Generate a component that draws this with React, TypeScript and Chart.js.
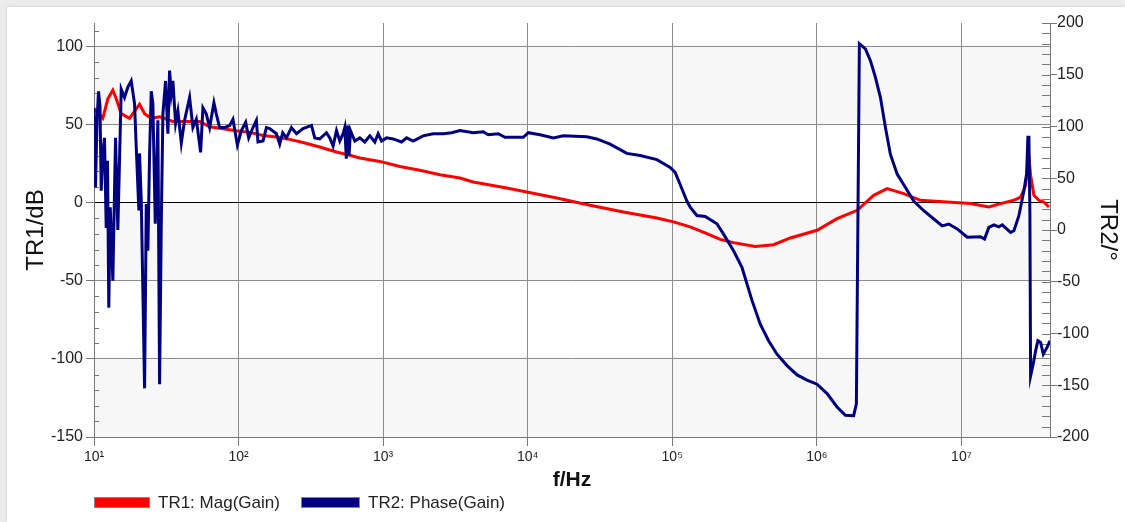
import React, { useEffect, useRef } from 'react';
import { Chart, registerables } from 'chart.js';

Chart.register(...registerables);

// ---- Data ----
const magFreq = [
  10.0, 11.5, 12.46, 13.5, 14.25, 15.43, 17.61, 20.66, 22.38, 24.89,
  28.42, 35.13, 43.5, 53.8, 63.1, 78.0, 96.6, 119.4, 147.6, 182.7,
  225.9, 279.3, 364.5, 475.7, 588.2, 689.7, 949, 1305, 1796, 2470,
  3398, 4201, 7155, 9842, 15880, 27010, 45920, 78250, 102000, 133000,
  173700, 214700, 265400, 375100, 502100, 655300, 1003000, 1380000, 1899000, 2474000,
  3064000, 3991000, 5211000, 7975000, 11560000, 15480000, 18660000, 23070000, 25670000, 27790000,
  29300000, 30100000, 31730000, 34370000, 37210000, 40310000,
];
const magDb = [
  60, 54, 66.5, 72, 66.5, 57, 54, 63, 57, 54,
  55, 52, 52, 52, 48.6, 47.3, 46, 45, 43, 42,
  40.5, 38.5, 35.6, 32.4, 30.3, 28.6, 26.4, 23.2, 20.7, 17.9,
  15.8, 13.2, 9.4, 6.8, 3, -1.7, -6, -9.8, -12.3, -15.5,
  -19.8, -23.5, -25.6, -28, -26.9, -22.6, -17.7, -10.2, -4.9, 4.7,
  9, 5.8, 1.5, 0.4, -0.6, -2.8, -0.6, 1.5, 3.6, 11,
  30, 17.5, 4.7, 1.5, 0.4, -2.8,
];

const phaseFreq = [
  10.0, 10.24, 10.49, 10.75, 11.0, 11.22, 11.54, 11.82, 12.15, 12.4,
  12.66, 12.95, 13.22, 13.5, 14.09, 14.62, 15.43, 16.26, 17.14, 18.09,
  19.08, 19.6, 20.43, 20.66, 21.23, 21.78, 22.38, 22.99, 23.59, 24.24,
  24.89, 25.54, 26.53, 27.66, 28.42, 29.2, 29.96, 31.27, 32.44, 33.33,
  34.25, 35.13, 36.68, 38.05, 40.17, 42.33, 45.85, 48.33, 51.03, 54.64,
  56.69, 59.84, 63.08, 67.54, 70.19, 73.97, 80.1, 86.8, 91.5, 98.1,
  104.6, 112, 117.5, 125.8, 132.8, 136.2, 147.6, 155.8, 164.3, 182.7,
  192.6, 202, 214.3, 232.1, 251.4, 279.3, 319.4, 336.5, 364.5, 405.5,
  427.5, 450.6, 475.7, 501.3, 528.4, 543, 556.2, 569.6, 581.5, 594.7,
  636.8, 689.7, 747, 809, 876, 923.5, 975, 1056, 1173, 1341,
  1453, 1614, 1892, 2220, 2603, 2977, 3398, 4201, 4926, 5336,
  6258, 6964, 9323, 10100, 12170, 15040, 17640, 25630, 30050, 37150,
  48490, 59960, 78250, 96720, 104700, 113400, 126200, 133000, 148000, 169000,
  203700, 226200, 265400, 303400, 328600, 355900, 406200, 463700, 530200, 621900,
  729500, 855400, 1003000, 1177000, 1380000, 1576000, 1798000, 1877000, 1969000, 2167000,
  2348000, 2542000, 2754000, 2982000, 3228000, 3593000, 4101000, 4680000, 5490000, 6442000,
  7362000, 8178000, 9352000, 10970000, 13560000, 14450000, 15480000, 16770000, 18160000, 19170000,
  21880000, 23070000, 24980000, 27050000, 28240000, 28830000, 29300000, 29770000, 30100000, 31420000,
  32590000, 33810000, 35300000, 36850000, 39280000, 40950000,
];
const phaseDeg = [
  118, 41, 106, 134, 120, 38, 77, 89, 2, 67,
  -75, 22, -10, -49, 89, 0, 136, 128, 138, 144,
  122, 80, 19, 74, 28, -59, -153, 25, -20, 74,
  134, 122, 6, 106, -149, 6, 112, 144, 93, 154,
  132, 144, 103, 115, 84, 106, 128, 99, 107, 75,
  118, 112, 99, 123, 112, 99, 99, 101, 107, 82,
  96, 104, 89, 99, 106, 85, 86, 99, 98, 93,
  83, 94, 89, 99, 93, 98, 101, 89, 88, 94,
  89, 81, 96, 86, 93, 99, 69, 101, 72, 96,
  86, 89, 85, 91, 85, 93, 86, 89, 88, 85,
  89, 86, 91, 93, 93, 94, 96, 94, 95, 92,
  93, 89.5, 89.5, 94, 92, 89, 91, 90, 88, 83,
  74, 72, 68, 60.5, 55.7, 44, 28, 22, 14, 13,
  6, -4, -20, -36, -52, -68, -91, -107, -120, -131,
  -140, -145, -149, -158, -171, -179, -179.4, -168, 180, 175,
  163.6, 147.4, 128, 99, 73, 54, 41, 28, 18.6, 10.6,
  4, 5.8, 1, -7, -6.5, -8.7, 2.5, 5, 3, 5,
  -2.3, -0.7, 13.8, 38, 54, 89.5, 89.5, 15.5, -141, -129,
  -117, -107, -108.6, -120, -113, -107,
];

const xTickValues = [10, 100, 1e3, 1e4, 1e5, 1e6, 1e7];
const xTickLabels = ['10¹', '10²', '10³', '10⁴', '10⁵', '10⁶', '10⁷'];
const magTicks = [-150, -100, -50, 0, 50, 100];
const phaseTicks = [-200, -150, -100, -50, 0, 50, 100, 150, 200];
const bandTops = [100, 0, -100];
const bandBottoms = [50, -50, -150];

const FONT = '"Liberation Sans", Arial, Helvetica, sans-serif';

const bandsPlugin = {
  id: 'bands',
  beforeDraw(chart: any) {
    const ctx = chart.ctx;
    const area = chart.chartArea;
    const y = chart.scales.yMag;
    ctx.save();
    ctx.fillStyle = '#ffffff';
    ctx.fillRect(area.left, area.top, area.right - area.left, area.bottom - area.top);
    ctx.fillStyle = '#f7f7f7';
    for (let i = 0; i < bandTops.length; i++) {
      const y1 = y.getPixelForValue(bandTops[i]);
      const y2 = y.getPixelForValue(bandBottoms[i]);
      ctx.fillRect(area.left, y1, area.right - area.left, y2 - y1);
    }
    ctx.restore();
  },
};

const minorTicksPlugin = {
  id: 'minorTicks',
  beforeDatasetsDraw(chart: any) {
    const { ctx } = chart;
    const yL = chart.scales.yMag;
    const yR = chart.scales.yPhase;
    ctx.save();
    ctx.strokeStyle = '#777';
    ctx.lineWidth = 1;
    for (let v = -150; v <= 110; v += 10) {
      if (v % 50 === 0) continue;
      const py = Math.round(yL.getPixelForValue(v)) + 0.5;
      ctx.beginPath();
      ctx.moveTo(yL.right, py);
      ctx.lineTo(yL.right + 5, py);
      ctx.stroke();
    }
    for (let v = -200; v <= 200; v += 10) {
      const py = Math.round(yR.getPixelForValue(v)) + 0.5;
      ctx.beginPath();
      ctx.moveTo(yR.left - 8, py);
      ctx.lineTo(yR.left, py);
      ctx.stroke();
    }
    ctx.restore();
  },
};

export default function App() {
  const canvasRef = useRef<HTMLCanvasElement | null>(null);

  useEffect(() => {
    const canvas = canvasRef.current;
    if (!canvas) return;
    const magData = magFreq.map((f, i) => ({ x: f, y: magDb[i] }));
    const phaseData = phaseFreq.map((f, i) => ({ x: f, y: phaseDeg[i] }));

    const chart = new Chart(canvas, {
      type: 'line',
      data: {
        datasets: [
          {
            label: 'TR1: Mag(Gain)',
            data: magData,
            yAxisID: 'yMag',
            borderColor: '#ff0000',
            borderWidth: 3,
            pointRadius: 0,
            tension: 0,
            order: 1,
          },
          {
            label: 'TR2: Phase(Gain)',
            data: phaseData,
            yAxisID: 'yPhase',
            borderColor: '#000080',
            borderWidth: 3,
            pointRadius: 0,
            tension: 0,
            order: 0,
          },
        ],
      },
      options: {
        responsive: false,
        animation: false,
        devicePixelRatio: 1,
        layout: { padding: { top: 23, left: 0, right: 0, bottom: 0 } },
        plugins: { legend: { display: false }, tooltip: { enabled: false } },
        scales: {
          x: {
            type: 'logarithmic',
            position: 'bottom',
            min: 10,
            max: 4.1e7,
            afterBuildTicks: (s: any) => {
              s.ticks = xTickValues.map((v) => ({ value: v }));
            },
            afterFit: (s: any) => {
              s.height = 85;
            },
            ticks: {
              autoSkip: false,
              maxRotation: 0,
              padding: 3,
              color: '#222',
              font: { family: FONT, size: 14 },
              callback: (_v: any, i: number) => xTickLabels[i],
            },
            grid: { color: '#8c8c8c', tickColor: '#777', tickLength: 9, lineWidth: 1 },
            border: { color: '#777' },
            title: {
              display: true,
              text: 'f/Hz',
              color: '#111',
              font: { family: FONT, size: 21, weight: 'bold' },
              padding: { top: 29, bottom: 29 },
            },
          },
          yMag: {
            type: 'linear',
            position: 'left',
            min: -150,
            max: 115,
            afterBuildTicks: (s: any) => {
              s.ticks = magTicks.map((v) => ({ value: v }));
            },
            afterFit: (s: any) => {
              s.width = 94;
            },
            ticks: { padding: 3, color: '#222', font: { family: FONT, size: 16 } },
            grid: {
              color: (c: any) => (c.tick && c.tick.value === 0 ? '#000000' : '#8c8c8c'),
              tickColor: '#777',
              tickLength: 8,
              lineWidth: 1,
            },
            border: { color: '#777' },
            title: {
              display: true,
              text: 'TR1/dB',
              color: '#111',
              font: { family: FONT, size: 24 },
              padding: { top: 22, bottom: 22 },
            },
          },
          yPhase: {
            type: 'linear',
            position: 'right',
            min: -200,
            max: 200,
            afterBuildTicks: (s: any) => {
              s.ticks = phaseTicks.map((v) => ({ value: v }));
            },
            afterFit: (s: any) => {
              s.width = 75;
            },
            ticks: { padding: 0, color: '#222', font: { family: FONT, size: 16 } },
            grid: { drawOnChartArea: false, tickColor: '#777', tickLength: 7, lineWidth: 1 },
            border: { color: '#777' },
            title: {
              display: true,
              text: 'TR2/°',
              color: '#111',
              font: { family: FONT, size: 24 },
              padding: { top: 3, bottom: 3 },
            },
          },
        },
      } as any,
      plugins: [bandsPlugin, minorTicksPlugin],
    });
    return () => chart.destroy();
  }, []);

  const legendText: React.CSSProperties = {
    position: 'absolute',
    fontFamily: FONT,
    fontSize: 17,
    color: '#222',
    lineHeight: '20px',
    top: 493,
    whiteSpace: 'nowrap',
  };

  return (
    <div style={{ position: 'absolute', left: 0, top: 0, width: 1125, height: 522, background: '#ececec', overflow: 'hidden' }}>
      <div style={{ position: 'absolute', left: 7, top: 7, right: 0, bottom: 0, background: '#ffffff', boxShadow: '-1px -1px 3px rgba(0,0,0,0.08)' }} />
      <canvas ref={canvasRef} width={1125} height={522} style={{ position: 'absolute', left: 0, top: 0 }} />
      <div style={{ position: 'absolute', left: 94, top: 497, width: 54, height: 9, background: '#ff0000', border: '1px solid #888' }} />
      <div style={{ ...legendText, left: 158 }}>TR1: Mag(Gain)</div>
      <div style={{ position: 'absolute', left: 301, top: 497, width: 57, height: 9, background: '#000080', border: '1px solid #888' }} />
      <div style={{ ...legendText, left: 368 }}>TR2: Phase(Gain)</div>
    </div>
  );
}
